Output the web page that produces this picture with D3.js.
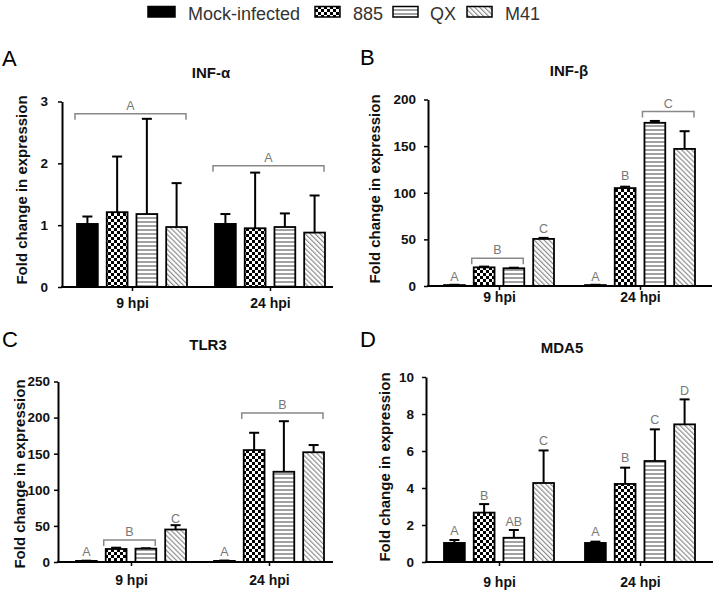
<!DOCTYPE html>
<html>
<head>
<meta charset="utf-8">
<script src="https://cdn.jsdelivr.net/npm/d3@7"></script>
<style>
  html, body { margin: 0; padding: 0; background: #fff; }
  svg { display: block; }
  text { font-family: "Liberation Sans", Arial, sans-serif; }
</style>
</head>
<body>
<svg id="chart" width="714" height="593"></svg>
<script>
// ---------------- DATA ----------------
const groups = ["9 hpi", "24 hpi"];
const series = ["Mock-infected", "885", "QX", "M41"];

// INF-alpha (panel A)
const infAlphaMean = [[1.02, 1.21, 1.18, 0.97], [1.02, 0.95, 0.97, 0.88]];
const infAlphaErr  = [[1.14, 2.11, 2.72, 1.68], [1.18, 1.85, 1.19, 1.48]];
const infAlphaTicks = [0, 1, 2, 3];
const infAlphaLetters = [];
const infAlphaBrackets = [
  { group: 0, from: 0, to: 3, value: 2.8, text: "A" },
  { group: 1, from: 0, to: 3, value: 1.96, text: "A" }
];

// INF-beta (panel B)
const infBetaMean = [[1, 20, 19, 50.5], [1, 105, 175, 147]];
const infBetaErr  = [[1.3, 20.8, 19.6, 51.6], [1.3, 106.5, 177, 166]];
const infBetaTicks = [0, 50, 100, 150, 200];
const infBetaLetters = [
  { group: 0, s: 0, value: 5, text: "A" },
  { group: 0, s: 3, value: 57, text: "C" },
  { group: 1, s: 0, value: 5, text: "A" },
  { group: 1, s: 1, value: 114, text: "B" }
];
const infBetaBrackets = [
  { group: 0, from: 1, to: 2, value: 29.8, text: "B" },
  { group: 1, from: 2, to: 3, value: 187, text: "C" }
];

// TLR3 (panel C)
const tlr3Mean = [[1.5, 18, 18.5, 45], [1.5, 155, 125, 152]];
const tlr3Err  = [[1.8, 19.8, 19, 51], [2, 179, 195, 162]];
const tlr3Ticks = [0, 50, 100, 150, 200, 250];
const tlr3Letters = [
  { group: 0, s: 0, value: 8, text: "A" },
  { group: 0, s: 3, value: 54, text: "C" },
  { group: 1, s: 0, value: 8, text: "A" }
];
const tlr3Brackets = [
  { group: 0, from: 1, to: 2, value: 30.5, text: "B" },
  { group: 1, from: 1, to: 3, value: 206.5, text: "B" }
];

// MDA5 (panel D)
const mda5Mean = [[1.03, 2.67, 1.31, 4.27], [1.03, 4.22, 5.46, 7.44]];
const mda5Err  = [[1.19, 3.13, 1.73, 6.03], [1.1, 5.1, 7.17, 8.79]];
const mda5Ticks = [0, 2, 4, 6, 8, 10];
const mda5Letters = [
  { group: 0, s: 0, value: 1.46, text: "A" },
  { group: 0, s: 1, value: 3.35, text: "B" },
  { group: 0, s: 2, value: 1.96, text: "AB" },
  { group: 0, s: 3, value: 6.32, text: "C" },
  { group: 1, s: 0, value: 1.42, text: "A" },
  { group: 1, s: 1, value: 5.42, text: "B" },
  { group: 1, s: 2, value: 7.46, text: "C" },
  { group: 1, s: 3, value: 9.03, text: "D" }
];
const mda5Brackets = [];

// ---------------- LAYOUT ----------------
const panels = [
  { tag: "A", title: "INF-\u03b1", mean: infAlphaMean, err: infAlphaErr, ticks: infAlphaTicks,
    letters: infAlphaLetters, brackets: infAlphaBrackets,
    x0: 62, x1: 333, yTop: 101.5, yBot: 287, c0: 132, c1: 270, tickPad: 10,
    titleX: 211, titleY: 78, tagX: 2, tagY: 66, yLabX: 27, yLabY: 190, xLabY: 308 },
  { tag: "B", title: "INF-\u03b2", mean: infBetaMean, err: infBetaErr, ticks: infBetaTicks,
    letters: infBetaLetters, brackets: infBetaBrackets,
    x0: 428, x1: 712, yTop: 99.5, yBot: 286, c0: 499, c1: 640, tickPad: 8,
    titleX: 569, titleY: 76, tagX: 360, tagY: 65, yLabX: 380, yLabY: 189, xLabY: 302 },
  { tag: "C", title: "TLR3", mean: tlr3Mean, err: tlr3Err, ticks: tlr3Ticks,
    letters: tlr3Letters, brackets: tlr3Brackets,
    x0: 58, x1: 333, yTop: 381.5, yBot: 562, c0: 131, c1: 269, tickPad: 4,
    titleX: 208, titleY: 350, tagX: 2, tagY: 347, yLabX: 25, yLabY: 474, xLabY: 585 },
  { tag: "D", title: "MDA5", mean: mda5Mean, err: mda5Err, ticks: mda5Ticks,
    letters: mda5Letters, brackets: mda5Brackets,
    x0: 426, x1: 713, yTop: 377, yBot: 562, c0: 499, c1: 640, tickPad: 8,
    titleX: 562, titleY: 353, tagX: 360, tagY: 347, yLabX: 390, yLabY: 467, xLabY: 587 }
];

const svg = d3.select("#chart");
svg.append("rect").attr("width", 714).attr("height", 593).attr("fill", "#fff");

// ---------------- PATTERNS ----------------
const defs = svg.append("defs");
const pChk = defs.append("pattern").attr("id", "pChk").attr("patternUnits", "userSpaceOnUse")
  .attr("width", 6).attr("height", 6);
pChk.append("rect").attr("width", 6).attr("height", 6).attr("fill", "#fff");
pChk.append("rect").attr("width", 3).attr("height", 3).attr("fill", "#000");
pChk.append("rect").attr("x", 3).attr("y", 3).attr("width", 3).attr("height", 3).attr("fill", "#000");

const pH = defs.append("pattern").attr("id", "pH").attr("patternUnits", "userSpaceOnUse")
  .attr("width", 4).attr("height", 4);
pH.append("rect").attr("width", 4).attr("height", 4).attr("fill", "#fff");
pH.append("line").attr("x1", 0).attr("x2", 4).attr("y1", 2).attr("y2", 2)
  .attr("stroke", "#444").attr("stroke-width", 1);

const pD = defs.append("pattern").attr("id", "pD").attr("patternUnits", "userSpaceOnUse")
  .attr("width", 3.5).attr("height", 3.5).attr("patternTransform", "rotate(-45)");
pD.append("rect").attr("width", 3.5).attr("height", 3.5).attr("fill", "#fff");
pD.append("line").attr("x1", 1.5).attr("x2", 1.5).attr("y1", 0).attr("y2", 3.5)
  .attr("stroke", "#777").attr("stroke-width", 1);

const fills = d3.scaleOrdinal().domain(series).range(["#000", "url(#pChk)", "url(#pH)", "url(#pD)"]);

// ---------------- LEGEND ----------------
const legendSwatchX = [148, 315, 393, 467];
const legendSwatchW = [27, 25, 25, 25];
const legendTextX = [188, 353, 430, 505];
const legend = svg.append("g");
series.forEach((s, i) => {
  legend.append("rect")
    .attr("x", legendSwatchX[i]).attr("y", 6.5)
    .attr("width", legendSwatchW[i]).attr("height", 10.5)
    .attr("fill", fills(s)).attr("stroke", "#000").attr("stroke-width", 1.5);
  legend.append("text")
    .attr("x", legendTextX[i]).attr("y", 19.5)
    .attr("font-size", 18).attr("fill", "#333").text(s);
});

// ---------------- PANELS ----------------
panels.forEach(p => {
  const g = svg.append("g");
  const y = d3.scaleLinear().domain([0, p.ticks[p.ticks.length - 1]]).range([p.yBot, p.yTop]);
  const xg = d3.scalePoint().domain(groups).range([p.c0, p.c1]);
  const xs = d3.scaleBand().domain(series).range([-55, 55]).paddingInner(0.3);
  const bw = xs.bandwidth();

  g.append("text").attr("x", p.tagX).attr("y", p.tagY).attr("font-size", 22).attr("fill", "#000").text(p.tag);
  g.append("text").attr("x", p.titleX).attr("y", p.titleY).attr("text-anchor", "middle")
    .attr("font-size", 15).attr("font-weight", "bold").attr("fill", "#111").text(p.title);
  g.append("text").attr("transform", `translate(${p.yLabX},${p.yLabY}) rotate(-90)`)
    .attr("text-anchor", "middle").attr("font-size", 15).attr("font-weight", "bold")
    .attr("fill", "#111").text("Fold change in expression");

  groups.forEach((grp, gi) => {
    series.forEach((s, si) => {
      const bx = xg(grp) + xs(s);
      const cx = bx + bw / 2;
      const v = p.mean[gi][si];
      const e = p.err[gi][si];
      g.append("line").attr("x1", cx).attr("x2", cx).attr("y1", y(v)).attr("y2", y(e))
        .attr("stroke", "#000").attr("stroke-width", 2);
      g.append("line").attr("x1", cx - 5).attr("x2", cx + 5).attr("y1", y(e)).attr("y2", y(e))
        .attr("stroke", "#000").attr("stroke-width", 2);
      g.append("rect").attr("x", bx).attr("y", y(v)).attr("width", bw)
        .attr("height", Math.max(0.5, y(0) - y(v)))
        .attr("fill", fills(s)).attr("stroke", "#000").attr("stroke-width", 1.8);
    });
  });

  p.letters.forEach(l => {
    const cx = xg(groups[l.group]) + xs(series[l.s]) + bw / 2;
    g.append("text").attr("x", cx).attr("y", y(l.value)).attr("text-anchor", "middle")
      .attr("font-size", 12.5).attr("fill", "#777").text(l.text);
  });

  p.brackets.forEach(b => {
    const gx = xg(groups[b.group]);
    const xa = gx + xs(series[b.from]) - 2;
    const xb = gx + xs(series[b.to]) + bw - 1;
    const yy = y(b.value);
    g.append("path").attr("d", `M${xa},${yy + 6}V${yy}H${xb}V${yy + 6}`)
      .attr("fill", "none").attr("stroke", "#888").attr("stroke-width", 1.5);
    g.append("text").attr("x", (xa + xb) / 2).attr("y", yy - 4).attr("text-anchor", "middle")
      .attr("font-size", 12.5).attr("fill", "#777").text(b.text);
  });

  const ya = g.append("g").attr("transform", `translate(${p.x0},0)`)
    .call(d3.axisLeft(y).tickValues(p.ticks).tickFormat(d3.format("d"))
      .tickSize(4).tickSizeOuter(0).tickPadding(p.tickPad));
  ya.select(".domain").attr("stroke", "#000").attr("stroke-width", 2);
  ya.selectAll(".tick line").attr("stroke", "#000").attr("stroke-width", 1.5);
  ya.selectAll(".tick text").attr("font-size", 13.5).attr("font-weight", "bold")
    .attr("fill", "#111").attr("font-family", '"Liberation Sans", Arial, sans-serif');

  const xa = g.append("g").attr("transform", `translate(0,${p.yBot})`)
    .call(d3.axisBottom(xg).tickSize(4).tickSizeOuter(0).tickPadding(p.xLabY - p.yBot - 14));
  xa.select(".domain").attr("d", `M${p.x0 - 1},0H${p.x1}`).attr("stroke", "#000").attr("stroke-width", 2);
  xa.selectAll(".tick line").attr("stroke", "#000").attr("stroke-width", 1.5);
  xa.selectAll(".tick text").attr("font-size", 14).attr("font-weight", "bold")
    .attr("fill", "#111").attr("font-family", '"Liberation Sans", Arial, sans-serif');
});
</script>
</body>
</html>
